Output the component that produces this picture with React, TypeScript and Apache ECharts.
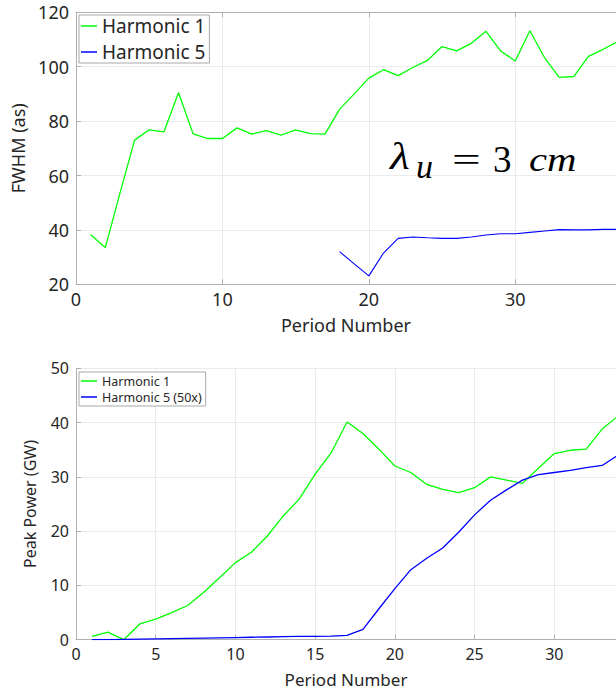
import React, { useEffect, useRef } from "react";
import * as echarts from "echarts";

// ---- data ----
const topPeriods = [1, 2, 3, 4, 5, 6, 7, 8, 9, 10, 11, 12, 13, 14, 15, 16, 17, 18, 19, 20, 21, 22, 23, 24, 25, 26, 27, 28, 29, 30, 31, 32, 33, 34, 35, 36, 37];
const topH1 = [38.2, 33.5, 53.4, 73.0, 76.8, 76.0, 90.4, 75.3, 73.6, 73.6, 77.5, 75.2, 76.5, 74.8, 76.8, 75.4, 75.2, 84.3, 90.0, 95.8, 98.9, 96.7, 99.7, 102.3, 107.4, 105.8, 108.6, 113.0, 105.8, 102.1, 113.2, 103.3, 96.1, 96.4, 103.8, 106.4, 109.2];
const topH5Periods = [18, 19, 20, 21, 22, 23, 24, 25, 26, 27, 28, 29, 30, 31, 32, 33, 34, 35, 36, 37];
const topH5 = [32.0, 27.5, 23.1, 31.5, 36.9, 37.4, 37.1, 36.9, 36.9, 37.4, 38.1, 38.6, 38.6, 39.1, 39.6, 40.1, 40.0, 40.0, 40.2, 40.2];

const botPeriods = [1, 2, 3, 4, 5, 6, 7, 8, 9, 10, 11, 12, 13, 14, 15, 16, 17, 18, 19, 20, 21, 22, 23, 24, 25, 26, 27, 28, 29, 30, 31, 32, 33, 34];
const botH1 = [0.6, 1.4, 0.0, 2.9, 3.8, 5.0, 6.3, 8.7, 11.4, 14.2, 16.1, 19.1, 22.8, 25.9, 30.5, 34.4, 40.1, 38.0, 35.1, 32.0, 30.8, 28.6, 27.7, 27.1, 28.0, 30.0, 29.4, 28.8, 31.6, 34.3, 34.9, 35.1, 38.8, 41.2];
const botH5 = [0.0, 0.0, 0.05, 0.1, 0.15, 0.2, 0.25, 0.3, 0.35, 0.4, 0.45, 0.5, 0.55, 0.6, 0.6, 0.65, 0.8, 1.9, 5.7, 9.4, 12.9, 15.0, 16.9, 19.8, 23.0, 25.7, 27.6, 29.4, 30.4, 30.8, 31.2, 31.7, 32.1, 34.0];

const topNames = ["Harmonic 1", "Harmonic 5"];
const botNames = ["Harmonic 1", "Harmonic 5 (50x)"];

const GREEN = "#00ff00";
const BLUE = "#0000ff";
const FONT = "Noto Sans";
const TXT = "#262626";
const AXIS = "#b0b0b0";
const GRIDLINE = "#ebebeb";

const zip = (xs: number[], ys: number[]) => xs.map((x, i) => [x, ys[i]]);

export default function App() {
  const ref = useRef<HTMLDivElement>(null);
  useEffect(() => {
    if (!ref.current) return;
    const chart = echarts.init(ref.current, undefined, { renderer: "svg" });
    const xCommon = (fs: number) => ({
      type: "value" as const,
      axisLine: { show: true, lineStyle: { color: AXIS, width: 1 } },
      axisTick: { show: true, inside: true, length: 5, lineStyle: { color: AXIS } },
      axisLabel: { color: TXT, fontFamily: FONT, fontSize: fs, margin: 6, showMaxLabel: false },
      splitLine: { show: true, lineStyle: { color: GRIDLINE, width: 1 } },
      nameLocation: "middle" as const,
      nameTextStyle: { color: TXT, fontFamily: FONT, fontSize: fs },
    });
    const mathFont = "'Liberation Serif', 'DejaVu Serif', serif";
    const mt = (text: string, x: number, y: number, size: number, italic: boolean, sx = 1) => ({
      type: "text", x, y, z: 100, scaleX: sx,
      style: { text, font: `${italic ? "italic " : ""}${size}px ${mathFont}`, fill: "#000", verticalAlign: "middle", align: "left" },
    });
    const option: any = {
      animation: false,
      backgroundColor: "#ffffff",
      grid: [
        { left: 76, top: 12.3, width: 540, height: 272 },
        { left: 76, top: 368.3, width: 540, height: 271.4 },
      ],
      xAxis: [
        { ...xCommon(18), gridIndex: 0, min: 0, max: 36.88, interval: 10, name: "Period Number", nameGap: 32 },
        { ...xCommon(16), gridIndex: 1, min: 0, max: 33.87, interval: 5, name: "Period Number", nameGap: 31,
          nameTextStyle: { color: TXT, fontFamily: FONT, fontSize: 17 } },
        { type: "value", gridIndex: 0, position: "top", min: 0, max: 36.88, interval: 10,
          axisLine: { show: true, lineStyle: { color: AXIS } },
          axisTick: { show: true, inside: true, length: 5, lineStyle: { color: AXIS } },
          axisLabel: { show: false }, splitLine: { show: false } },
      ],
      yAxis: [
        { ...xCommon(18), gridIndex: 0, min: 20, max: 120, interval: 20, name: "FWHM (as)", nameGap: 49,
          axisLabel: { color: TXT, fontFamily: FONT, fontSize: 18, margin: 7 } },
        { ...xCommon(16), gridIndex: 1, min: 0, max: 50, interval: 10, name: "Peak Power (GW)", nameGap: 38,
          axisLabel: { color: TXT, fontFamily: FONT, fontSize: 16, margin: 7 } },
      ],
      legend: [
        {
          data: topNames,
          orient: "vertical",
          left: 79, top: 15,
          padding: [1, 4, 1, 2],
          itemGap: 6,
          itemWidth: 16, itemHeight: 1.5,
          icon: "rect",
          backgroundColor: "#ffffff",
          borderColor: "#a8a8a8", borderWidth: 1, borderRadius: 0,
          textStyle: { color: TXT, fontFamily: FONT, fontSize: 19, lineHeight: 20 },
        },
        {
          data: botNames,
          orient: "vertical",
          left: 79, top: 372,
          padding: [2, 4, 2, 2],
          itemGap: 2,
          itemWidth: 16, itemHeight: 1.5,
          icon: "rect",
          backgroundColor: "#ffffff",
          borderColor: "#a8a8a8", borderWidth: 1, borderRadius: 0,
          textStyle: { color: TXT, fontFamily: FONT, fontSize: 12.5, lineHeight: 14 },
        },
      ],
      series: [
        { name: topNames[0], type: "line", xAxisIndex: 0, yAxisIndex: 0, data: zip(topPeriods, topH1),
          showSymbol: false, symbol: "none", lineStyle: { color: GREEN, width: 1.3 }, itemStyle: { color: GREEN }, clip: true },
        { name: topNames[1], type: "line", xAxisIndex: 0, yAxisIndex: 0, data: zip(topH5Periods, topH5),
          showSymbol: false, symbol: "none", lineStyle: { color: BLUE, width: 1.1 }, itemStyle: { color: BLUE }, clip: true },
        { name: botNames[0], type: "line", xAxisIndex: 1, yAxisIndex: 1, data: zip(botPeriods, botH1),
          showSymbol: false, symbol: "none", lineStyle: { color: GREEN, width: 1.3 }, itemStyle: { color: GREEN }, clip: true },
        { name: botNames[1], type: "line", xAxisIndex: 1, yAxisIndex: 1, data: zip(botPeriods, botH5),
          showSymbol: false, symbol: "none", lineStyle: { color: BLUE, width: 1.3 }, itemStyle: { color: BLUE }, clip: true },
      ],
      graphic: [
        mt("λ", 390, 156, 38, true, 1.2),
        mt("u", 416, 166.5, 34, true, 1.0),
        mt("=", 452, 159.5, 34, false, 1.5),
        mt("3", 493, 159, 37, false, 1.0),
        mt("cm", 529, 159.5, 34, true, 1.2),
      ],
    };
    chart.setOption(option);
    return () => chart.dispose();
  }, []);
  return (
    <div
      ref={ref}
      style={{ position: "fixed", left: 0, top: 0, width: 616, height: 694, background: "#fff" }}
    />
  );
}
